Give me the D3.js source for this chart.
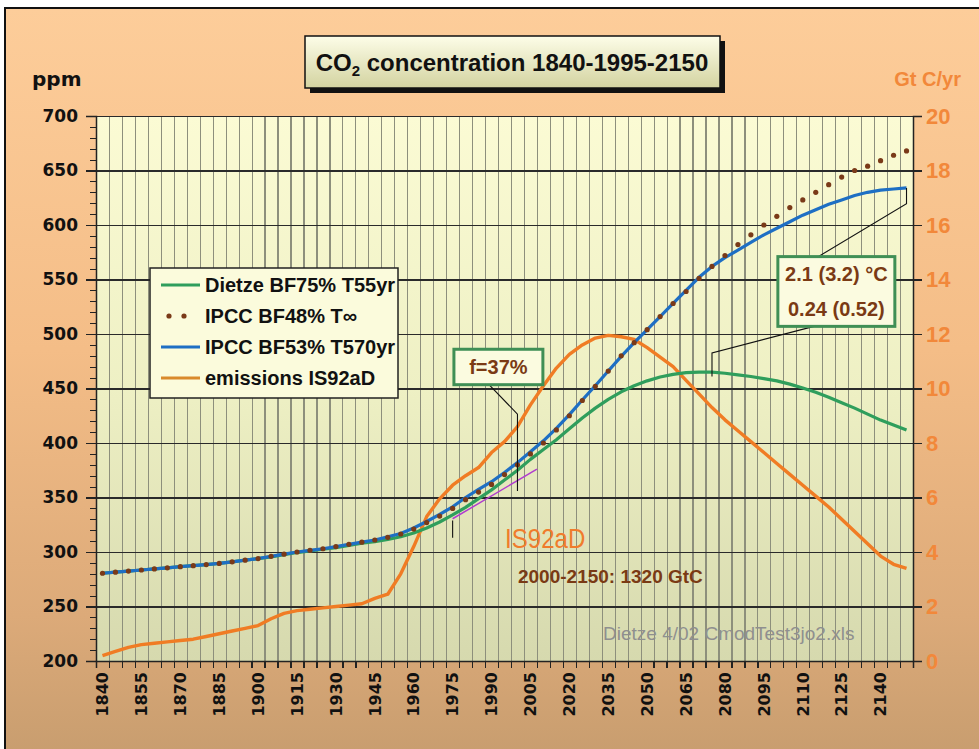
<!DOCTYPE html>
<html lang="en">
<head>
<meta charset="UTF-8">
<title>CO2 concentration 1840-1995-2150</title>
<script src="https://d3js.org/d3.v7.min.js"></script>
<style>
  body { margin: 0; background: #fff; }
  svg text { font-family: "Liberation Sans", Arial, sans-serif; }
  .tick line { shape-rendering: crispEdges; }
</style>
</head>
<body>
<svg id="chart" width="979" height="749"></svg>
<script>
// categories: one every 5 years
const years = [1840,1845,1850,1855,1860,1865,1870,1875,1880,1885,1890,1895,1900,
  1905,1910,1915,1920,1925,1930,1935,1940,1945,1950,1955,1960,1965,1970,1975,1980,1985,1990,1995,2000,
  2005,2010,2015,2020,2025,2030,2035,2040,2045,2050,2055,2060,2065,2070,2075,2080,2085,2090,2095,2100,
  2105,2110,2115,2120,2125,2130,2135,2140,2145,2150];
const yearLabels = [1840,1855,1870,1885,1900,1915,1930,1945,1960,1975,1990,2005,2020,2035,2050,2065,2080,2095,2110,2125,2140];
const ppmTicks = [200,250,300,350,400,450,500,550,600,650,700];
const gtcTicks = [0,2,4,6,8,10,12,14,16,18,20];

// ppm, Dietze BF75% T55yr
const dietze = [280.5,281.5,282.5,283.5,284.5,285.5,286.5,287.5,288.5,289.5,291,292.5,294,
  295.5,297.5,299.5,301,302.5,304,306,308,309.5,311.5,314,317.5,322,327.5,334,341,349,357,366,375,
  385,394,403,413,423,432,440,447,452.5,457,460.5,463,464.5,465,465,464,462.5,461,459,457,
  454,450.5,446.5,442,437,432,426.5,421,416.5,412];
// ppm, IPCC BF48% T-infinity (dotted)
const ipccInf = [280.5,281.5,282.5,283.5,284.5,285.5,286.5,287.5,288.5,289.5,291,292.5,294,
  296,298,300,301.5,303,305,307,309,311,313.5,316.5,321,327,333,340,348,355,362,371,380,
  390,400,412,425,439,452,466,480,492,504,516,528,539,551,562,572,582,591,600,608,
  616,623,630,637,644,650,654,659,664,668];
// ppm, IPCC BF53% T570yr
const ipcc570 = [280.5,281.5,282.5,283.5,284.5,285.5,286.5,287.5,288.5,289.5,291,292.5,294,
  296,298,300,301.5,303,305,307,309,311,314,317,322,328,334.5,341.5,350,357.5,364.5,373,382,
  392,402,413.5,426,439.5,452.5,466,479.5,492,504,516,528,540,552,562,570,577,584,591,597,
  603,609,614,619,623,627,630,632,633,634];
// GtC/yr, emissions IS92aD
const emissions = [0.2,0.35,0.5,0.6,0.65,0.7,0.75,0.8,0.9,1.0,1.1,1.2,1.3,
  1.55,1.75,1.85,1.9,1.95,2.0,2.05,2.1,2.3,2.45,3.2,4.2,5.3,5.95,6.45,6.8,7.1,7.65,8.05,8.6,
  9.4,10.1,10.75,11.25,11.6,11.85,11.95,11.9,11.8,11.5,11.15,10.8,10.3,9.8,9.3,8.85,8.45,8.05,7.65,7.25,
  6.85,6.45,6.05,5.65,5.2,4.75,4.3,3.85,3.55,3.4];
// short trend line (year, ppm)
const trendYears = [1975, 2007.5];
const trendPpm = [330.5, 376];

const svg = d3.select("#chart");
const m = { left: 96, right: 913, top: 116, bottom: 661 };

const x = d3.scaleBand().domain(years).range([m.left, m.right]);
const xc = d => x(d) + x.bandwidth() / 2;
// continuous year scale for boundaries and annotations
const xl = d3.scaleLinear().domain([1837.5, 2152.5]).range([m.left, m.right]);
const yL = d3.scaleLinear().domain([200, 700]).range([m.bottom, m.top]);
const yR = d3.scaleLinear().domain([0, 20]).range([m.bottom, m.top]);

// gradients
const defs = svg.append("defs");
function grad(id, stops) {
  const g = defs.append("linearGradient").attr("id", id)
    .attr("x1", 0).attr("y1", 0).attr("x2", 0).attr("y2", 1);
  stops.forEach(s => g.append("stop").attr("offset", s[0]).attr("stop-color", s[1]));
}
grad("bgGrad", [[0, "#fdcd9a"], [0.45, "#f4bd87"], [0.8, "#dcaa79"], [1, "#c69c6e"]]);
grad("plotGrad", [[0, "#fbfbd4"], [0.5, "#eef0c4"], [1, "#d6d9ae"]]);
grad("titleGrad", [[0, "#fdfde8"], [1, "#d3d3a0"]]);

// chart area
svg.append("rect").attr("x", 5).attr("y", 8).attr("width", 1000).attr("height", 760)
  .attr("fill", "url(#bgGrad)").attr("stroke", "#111").attr("stroke-width", 2);

// plot area
svg.append("rect").attr("x", m.left).attr("y", m.top)
  .attr("width", m.right - m.left).attr("height", m.bottom - m.top)
  .attr("fill", "url(#plotGrad)");

// vertical grid at category boundaries
const bounds = years.map(d => d - 2.5).concat([2152.5]);
svg.append("g").attr("transform", `translate(0,${m.bottom})`)
  .call(d3.axisBottom(xl).tickValues(bounds.slice(1, -1)).tickSize(-(m.bottom - m.top)).tickFormat(""))
  .call(g => g.select(".domain").remove())
  .call(g => g.selectAll("line").attr("stroke", "#8d8f7c").attr("stroke-width", 1.2));

// horizontal grid
svg.append("g").attr("transform", `translate(${m.left},0)`)
  .call(d3.axisLeft(yL).tickValues(ppmTicks.slice(1)).tickSize(-(m.right - m.left)).tickFormat(""))
  .call(g => g.select(".domain").remove())
  .call(g => g.selectAll("line").attr("stroke", "#2a2a2a").attr("stroke-width", 1.6));

// left axis: minor ticks every 10 ppm, major every 50
svg.append("g").attr("transform", `translate(${m.left},0)`)
  .call(d3.axisLeft(yL).tickValues(d3.range(200, 701, 10)).tickSize(6).tickFormat(""))
  .call(g => g.select(".domain").remove())
  .call(g => g.selectAll("line").attr("stroke", "#222"));
svg.append("g").attr("transform", `translate(${m.left},0)`)
  .call(d3.axisLeft(yL).tickValues(ppmTicks).tickSize(10).tickPadding(8))
  .call(g => g.select(".domain").attr("stroke", "#222").attr("stroke-width", 1.5))
  .call(g => g.selectAll("line").attr("stroke", "#222").attr("stroke-width", 1.3))
  .call(g => g.selectAll("text").attr("fill", "#111")
    .style("font-family", "'DejaVu Sans', sans-serif").style("font-weight", "bold").style("font-size", "17px"));

// right axis
svg.append("g").attr("transform", `translate(${m.right},0)`)
  .call(d3.axisRight(yR).tickValues(gtcTicks).tickSize(9).tickPadding(4))
  .call(g => g.select(".domain").attr("stroke", "#222").attr("stroke-width", 1.5))
  .call(g => g.selectAll("line").attr("stroke", "#222").attr("stroke-width", 1.3))
  .call(g => g.selectAll("text").attr("fill", "#f2883a")
    .style("font-weight", "bold").style("font-size", "22px"));

// bottom axis: ticks at boundaries
svg.append("g").attr("transform", `translate(0,${m.bottom})`)
  .call(d3.axisBottom(xl).tickValues(bounds).tickSize(7).tickFormat(""))
  .call(g => g.select(".domain").attr("stroke", "#222").attr("stroke-width", 1.5))
  .call(g => g.selectAll("line").attr("stroke", "#222").attr("stroke-width", 1.3));
svg.append("g").attr("transform", `translate(0,${m.bottom})`)
  .call(d3.axisBottom(x).tickValues(yearLabels).tickSize(0))
  .call(g => g.select(".domain").remove())
  .call(g => g.selectAll("text")
    .attr("transform", "rotate(-90)").attr("text-anchor", "end")
    .attr("x", -11).attr("y", 0).attr("dy", "0.36em").attr("fill", "#111")
    .style("font-family", "'DejaVu Sans', sans-serif").style("font-weight", "bold").style("font-size", "16px"));

// axis titles
svg.append("text").attr("x", 32).attr("y", 86).text("ppm")
  .style("font-family", "'DejaVu Sans', sans-serif").style("font-weight", "bold").style("font-size", "20px").attr("fill", "#111");
svg.append("text").attr("x", 961).attr("y", 86).attr("text-anchor", "end").text("Gt C/yr")
  .style("font-weight", "bold").style("font-size", "20px").attr("fill", "#f2883a");

// series
const lineL = d3.line().x((d, i) => xc(years[i])).y(d => yL(d));
const lineR = d3.line().x((d, i) => xc(years[i])).y(d => yR(d));

svg.append("path").datum(emissions).attr("d", lineR)
  .attr("fill", "none").attr("stroke", "#f07c24").attr("stroke-width", 3.4).attr("stroke-linejoin", "round");
svg.append("path").datum(dietze).attr("d", lineL)
  .attr("fill", "none").attr("stroke", "#2f9e5c").attr("stroke-width", 3.2).attr("stroke-linejoin", "round");
svg.append("path").datum(ipcc570).attr("d", lineL)
  .attr("fill", "none").attr("stroke", "#1e6fc4").attr("stroke-width", 3.2).attr("stroke-linejoin", "round");
svg.append("path").datum(trendPpm)
  .attr("d", d3.line().x((d, i) => xl(trendYears[i])).y(d => yL(d)))
  .attr("stroke", "#b03ccf").attr("stroke-width", 1.5);
svg.append("g").selectAll("circle").data(ipccInf).join("circle")
  .attr("cx", (d, i) => xc(years[i])).attr("cy", d => yL(d)).attr("r", 2.6).attr("fill", "#7a3a18");

// annotation pointers (year, ppm)
const ptr = d3.line().x(d => xl(d[0])).y(d => yL(d[1]));
const pointers = [
  [[1988, 456], [2000, 426.5], [2000, 356]],
  [[1975, 329], [1975, 313]],
  [[2116, 571], [2150, 619.5], [2150, 634]],
  [[2114.3, 507], [2075, 482.6], [2075, 461]]
];
svg.append("g").selectAll("path").data(pointers).join("path")
  .attr("d", ptr).attr("fill", "none").attr("stroke", "#111").attr("stroke-width", 1.1);

// annotation boxes
function noteBox(y0, y1, p0, p1, lines) {
  const g = svg.append("g");
  g.append("rect").attr("x", xl(y0)).attr("y", yL(p0))
    .attr("width", xl(y1) - xl(y0)).attr("height", yL(p1) - yL(p0))
    .attr("fill", "#fbfbe0").attr("stroke", "#3f8f55").attr("stroke-width", 3);
  const cx = (xl(y0) + xl(y1)) / 2, top = yL(p0), h = yL(p1) - yL(p0);
  lines.forEach((t, i) => g.append("text").attr("x", cx)
    .attr("y", top + h * (i + 0.5) / lines.length).attr("dy", "0.36em")
    .attr("text-anchor", "middle").text(t)
    .style("font-weight", "bold").style("font-size", "20px").attr("fill", "#7a3a14"));
}
noteBox(1975.5, 2009.8, 486, 453.5, ["f=37%"]);
noteBox(2100.4, 2145.5, 571, 507, ["2.1 (3.2) °C", "0.24 (0.52)"]);

svg.append("text").attr("transform", `translate(${xl(1995.2)},${yL(304)}) scale(0.86,1)`).text("IS92aD")
  .style("font-size", "28px").attr("fill", "#f07c2c");
svg.append("text").attr("x", xl(2000.2)).attr("y", yL(272)).text("2000-2150: 1320 GtC")
  .style("font-weight", "bold").style("font-size", "19px").attr("fill", "#7a3a14");
svg.append("text").attr("x", xl(2033)).attr("y", yL(219)).text("Dietze 4/02 CmodTest3jo2.xls")
  .style("font-size", "19px").attr("fill", "#8f8f8f");

// legend
const legend = svg.append("g");
legend.append("rect").attr("x", 150).attr("y", 268).attr("width", 248).attr("height", 130)
  .attr("fill", "#fbfbdc").attr("stroke", "#222").attr("stroke-width", 1.5);
const legendItems = [
  { name: "Dietze BF75% T55yr", color: "#2f9e5c", dots: false },
  { name: "IPCC BF48% T\u221E", color: "#7a3a18", dots: true },
  { name: "IPCC BF53% T570yr", color: "#1e6fc4", dots: false },
  { name: "emissions IS92aD", color: "#d98a2c", dots: false }
];
legendItems.forEach((d, i) => {
  const yy = 285 + i * 31;
  if (d.dots) {
    [169, 184].forEach(cx => legend.append("circle").attr("cx", cx).attr("cy", yy).attr("r", 2.6).attr("fill", d.color));
  } else {
    legend.append("line").attr("x1", 161).attr("x2", 200).attr("y1", yy).attr("y2", yy)
      .attr("stroke", d.color).attr("stroke-width", 3);
  }
  legend.append("text").attr("x", 205).attr("y", yy).attr("dy", "0.36em").text(d.name)
    .style("font-weight", "bold").style("font-size", "20px").attr("fill", "#111");
});

// title box
svg.append("rect").attr("x", 310).attr("y", 41).attr("width", 415).attr("height", 52).attr("fill", "#111");
svg.append("rect").attr("x", 305).attr("y", 36).attr("width", 415).attr("height", 52)
  .attr("fill", "url(#titleGrad)").attr("stroke", "#111").attr("stroke-width", 1.5);
const title = svg.append("text").attr("x", 512).attr("y", 71).attr("text-anchor", "middle")
  .style("font-weight", "bold").style("font-size", "24px").attr("fill", "#111");
title.append("tspan").text("CO");
title.append("tspan").text("2").attr("dy", 5).style("font-size", "15px");
title.append("tspan").text(" concentration 1840-1995-2150").attr("dy", -5);
</script>
</body>
</html>
